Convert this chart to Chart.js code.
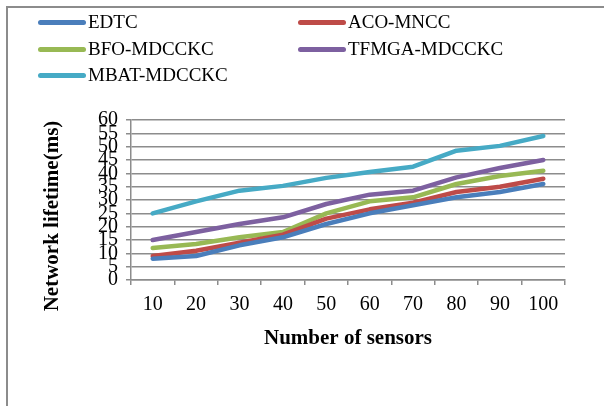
<!DOCTYPE html>
<html>
<head>
<meta charset="utf-8">
<script src="https://cdn.jsdelivr.net/npm/chart.js@4/dist/chart.umd.min.js"></script>
<style>
  html, body { margin: 0; padding: 0; background: #fff; }
  #wrap { position: relative; width: 604px; height: 406px; }
  #frame { position: absolute; left: 6px; top: 6px; right: 0; bottom: 0;
    border-left: 2px solid #8c8c8c; border-top: 2px solid #8c8c8c; pointer-events: none; }
  #legend { position: absolute; left: 0; top: 0; width: 604px; height: 100px;
    font-family: "Liberation Serif", "Times New Roman", serif; font-size: 19px; color: #000; }
  .item { position: absolute; display: flex; align-items: center; height: 24px; white-space: nowrap; }
  .swatch { width: 48px; height: 5px; border-radius: 3px; margin-right: 2px; }
</style>
</head>
<body>
<div id="wrap">
  <canvas id="chart" width="604" height="406"></canvas>
  <div id="legend"></div>
  <div id="frame"></div>
</div>
<script>
const categories = ['10', '20', '30', '40', '50', '60', '70', '80', '90', '100'];

const edtc = [8, 9, 13, 16, 21, 25, 28, 31, 33, 36];
const acoMncc = [9, 11, 14, 17, 23, 26.5, 29, 33, 35, 38];
const bfoMdcckc = [12, 13.5, 16, 18, 25, 29.5, 31, 36, 39, 41];
const tfmgaMdcckc = [15, 18, 21, 23.5, 28.5, 32, 33.5, 38.5, 42, 45];
const mbatMdcckc = [25, 29.5, 33.5, 35.3, 38.3, 40.5, 42.5, 48.5, 50.3, 54];

const seriesNames = ['EDTC', 'ACO-MNCC', 'BFO-MDCCKC', 'TFMGA-MDCCKC', 'MBAT-MDCCKC'];
const seriesColors = ['#4a7ebb', '#be4b48', '#98b954', '#7d60a0', '#46aac5'];
const yTicks = [0, 5, 10, 15, 20, 25, 30, 35, 40, 45, 50, 55, 60];
const yTitle = 'Network lifetime(ms)';
const xTitle = 'Number of sensors';

const seriesValues = [edtc, acoMncc, bfoMdcckc, tfmgaMdcckc, mbatMdcckc];

const serif = '"Liberation Serif", "Times New Roman", serif';
const gridColor = '#8c8c8c';

const legendSpots = [
  { x: 38, y: 10 }, { x: 298, y: 10 },
  { x: 38, y: 37 }, { x: 298, y: 37 },
  { x: 38, y: 63 },
];

const legendEl = document.getElementById('legend');
seriesNames.forEach((name, i) => {
  const item = document.createElement('div');
  item.className = 'item';
  item.style.left = legendSpots[i].x + 'px';
  item.style.top = legendSpots[i].y + 'px';
  const sw = document.createElement('span');
  sw.className = 'swatch';
  sw.style.background = seriesColors[i];
  const label = document.createElement('span');
  label.textContent = name;
  item.appendChild(sw);
  item.appendChild(label);
  legendEl.appendChild(item);
});

// the y title sits a bit below the plot centre in the original, so draw it by hand
const yTitlePlugin = {
  id: 'yTitle',
  afterDraw(chart) {
    const { ctx } = chart;
    ctx.save();
    ctx.translate(53, 216);
    ctx.rotate(-Math.PI / 2);
    ctx.font = 'bold 21px ' + serif;
    ctx.fillStyle = '#000';
    ctx.textAlign = 'center';
    ctx.textBaseline = 'middle';
    ctx.fillText(yTitle, 0, 0);
    ctx.restore();
  },
};

const datasets = seriesNames.map((name, i) => ({
  label: name,
  data: seriesValues[i],
  borderColor: seriesColors[i],
  backgroundColor: seriesColors[i],
  borderWidth: 4.5,
  pointRadius: 0,
  tension: 0,
  borderCapStyle: 'round',
  borderJoinStyle: 'round',
}));

new Chart(document.getElementById('chart'), {
  type: 'line',
  data: { labels: categories, datasets },
  plugins: [yTitlePlugin],
  options: {
    responsive: false,
    animation: false,
    devicePixelRatio: 1,
    layout: { padding: { top: 120, right: 39, bottom: 0, left: 0 } },
    plugins: {
      legend: { display: false },
      tooltip: { enabled: false },
    },
    scales: {
      x: {
        type: 'category',
        offset: true,
        grid: {
          offset: true,
          drawOnChartArea: false,
          drawTicks: true,
          tickLength: 5,
          color: gridColor,
          lineWidth: 1.5,
        },
        border: { color: gridColor, width: 1.5 },
        ticks: {
          color: '#000',
          font: { family: serif, size: 20 },
          padding: 8,
          maxRotation: 0,
          autoSkip: false,
        },
        title: {
          display: true,
          text: xTitle,
          color: '#000',
          font: { family: serif, size: 21, weight: 'bold' },
          padding: { top: 0, bottom: 55 },
        },
        afterFit: (scale) => { scale.height = 126; },
      },
      y: {
        min: 0,
        max: 60,
        afterBuildTicks: (scale) => { scale.ticks = yTicks.map((v) => ({ value: v })); },
        grid: {
          color: gridColor,
          lineWidth: 1.5,
          tickLength: 5,
        },
        border: { color: gridColor, width: 1.5 },
        ticks: {
          color: '#000',
          font: { family: serif, size: 20 },
          padding: 8,
          autoSkip: false,
        },
        afterFit: (scale) => { scale.width = 131; },
      },
    },
  },
});
</script>
</body>
</html>
